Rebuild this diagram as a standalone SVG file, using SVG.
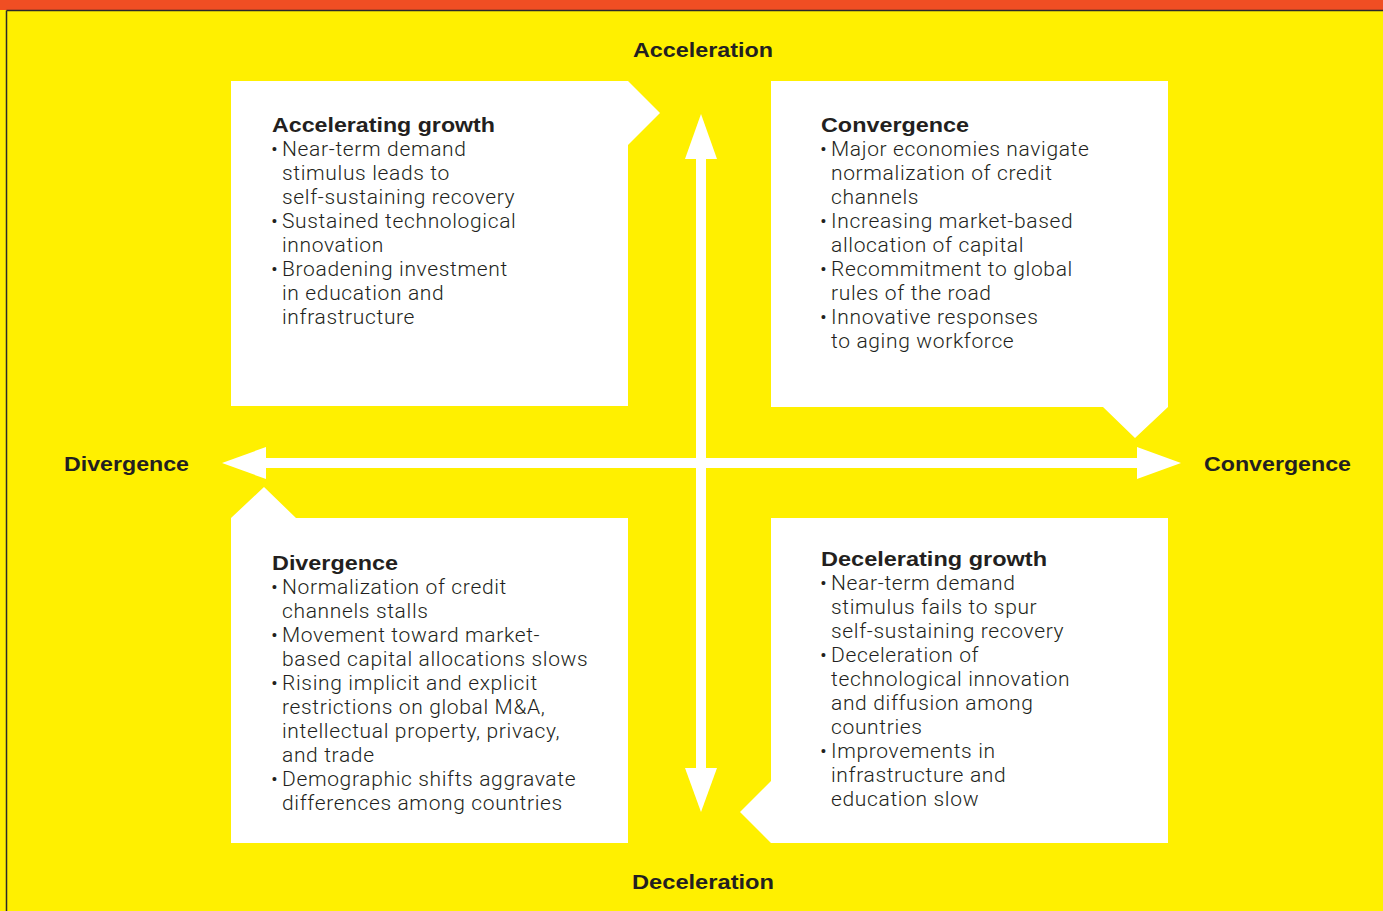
<svg xmlns="http://www.w3.org/2000/svg" width="1383" height="911" viewBox="0 0 1383 911">
  <style>
    .bg { fill: #FFF000; }
    .band { fill: #F04E23; }
    .edge { stroke: #2B2A29; stroke-width: 1.5; fill: none; }
    .card { fill: #FFFFFF; }
    .axis { fill: #FFFFFF; }
    .pole { font-family: "Liberation Sans", Arial, sans-serif; font-weight: 700; font-size: 21px; fill: #231F20; }
    .head { font-family: "Liberation Sans", Arial, sans-serif; font-weight: 700; font-size: 21px; fill: #231F20; }
    .body { font-family: Roboto, "Liberation Sans", sans-serif; font-weight: 300; font-size: 21px; letter-spacing: 0.65px; fill: #231F20; }
  </style>

  <!-- page ground -->
  <rect class="bg" x="0" y="0" width="1383" height="911"/>
  <rect class="band" x="0" y="0" width="1383" height="10"/>
  <line class="edge" x1="6.5" y1="10.5" x2="1383" y2="10.5"/>
  <line class="edge" x1="6.5" y1="10.5" x2="6.5" y2="911"/>

  <!-- axes -->
  <g id="axes">
    <rect class="axis" x="696" y="156" width="10" height="616"/>
    <polygon class="axis" points="701,114 717,159 685,159"/>
    <polygon class="axis" points="701,812 685,768 717,768"/>
    <rect class="axis" x="262" y="458" width="878" height="10"/>
    <polygon class="axis" points="222,463 266,447 266,479"/>
    <polygon class="axis" points="1181,463 1137,447 1137,479"/>
  </g>

  <!-- axis pole labels -->
  <g id="poles">
    <text class="pole" x="703" y="57" text-anchor="middle" textLength="140" lengthAdjust="spacingAndGlyphs">Acceleration</text>
    <text class="pole" x="703" y="889" text-anchor="middle" textLength="142" lengthAdjust="spacingAndGlyphs">Deceleration</text>
    <text class="pole" x="64" y="471" textLength="125" lengthAdjust="spacingAndGlyphs">Divergence</text>
    <text class="pole" x="1204" y="471" textLength="147" lengthAdjust="spacingAndGlyphs">Convergence</text>
  </g>

  <!-- upper-left quadrant -->
  <g id="accelerating-growth">
    <polygon class="card" points="231,81 628,81 660,113 628,145 628,406 231,406"/>
    <text class="head" x="272" y="132" textLength="223" lengthAdjust="spacingAndGlyphs">Accelerating growth</text>
    <text class="body">
      <tspan x="271" y="156">•</tspan><tspan x="282" y="156">Near-term demand</tspan>
      <tspan x="282" y="180">stimulus leads to</tspan>
      <tspan x="282" y="204">self-sustaining recovery</tspan>
      <tspan x="271" y="228">•</tspan><tspan x="282" y="228">Sustained technological</tspan>
      <tspan x="282" y="252">innovation</tspan>
      <tspan x="271" y="276">•</tspan><tspan x="282" y="276">Broadening investment</tspan>
      <tspan x="282" y="300">in education and</tspan>
      <tspan x="282" y="324">infrastructure</tspan>
    </text>
  </g>

  <!-- upper-right quadrant -->
  <g id="convergence">
    <polygon class="card" points="771,81 1168,81 1168,407 1135,438 1103,407 771,407"/>
    <text class="head" x="821" y="132" textLength="148" lengthAdjust="spacingAndGlyphs">Convergence</text>
    <text class="body">
      <tspan x="820" y="156">•</tspan><tspan x="831" y="156">Major economies navigate</tspan>
      <tspan x="831" y="180">normalization of credit</tspan>
      <tspan x="831" y="204">channels</tspan>
      <tspan x="820" y="228">•</tspan><tspan x="831" y="228">Increasing market-based</tspan>
      <tspan x="831" y="252">allocation of capital</tspan>
      <tspan x="820" y="276">•</tspan><tspan x="831" y="276">Recommitment to global</tspan>
      <tspan x="831" y="300">rules of the road</tspan>
      <tspan x="820" y="324">•</tspan><tspan x="831" y="324">Innovative responses</tspan>
      <tspan x="831" y="348">to aging workforce</tspan>
    </text>
  </g>

  <!-- lower-left quadrant -->
  <g id="divergence">
    <polygon class="card" points="231,518 264,487 296,518 628,518 628,843 231,843"/>
    <text class="head" x="272" y="570" textLength="126" lengthAdjust="spacingAndGlyphs">Divergence</text>
    <text class="body">
      <tspan x="271" y="594">•</tspan><tspan x="282" y="594">Normalization of credit</tspan>
      <tspan x="282" y="618">channels stalls</tspan>
      <tspan x="271" y="642">•</tspan><tspan x="282" y="642">Movement toward market-</tspan>
      <tspan x="282" y="666">based capital allocations slows</tspan>
      <tspan x="271" y="690">•</tspan><tspan x="282" y="690">Rising implicit and explicit</tspan>
      <tspan x="282" y="714">restrictions on global M&amp;A,</tspan>
      <tspan x="282" y="738">intellectual property, privacy,</tspan>
      <tspan x="282" y="762">and trade</tspan>
      <tspan x="271" y="786">•</tspan><tspan x="282" y="786">Demographic shifts aggravate</tspan>
      <tspan x="282" y="810">differences among countries</tspan>
    </text>
  </g>

  <!-- lower-right quadrant -->
  <g id="decelerating-growth">
    <polygon class="card" points="771,518 1168,518 1168,843 771,843 740,812 771,781"/>
    <text class="head" x="821" y="566" textLength="226" lengthAdjust="spacingAndGlyphs">Decelerating growth</text>
    <text class="body">
      <tspan x="820" y="590">•</tspan><tspan x="831" y="590">Near-term demand</tspan>
      <tspan x="831" y="614">stimulus fails to spur</tspan>
      <tspan x="831" y="638">self-sustaining recovery</tspan>
      <tspan x="820" y="662">•</tspan><tspan x="831" y="662">Deceleration of</tspan>
      <tspan x="831" y="686">technological innovation</tspan>
      <tspan x="831" y="710">and diffusion among</tspan>
      <tspan x="831" y="734">countries</tspan>
      <tspan x="820" y="758">•</tspan><tspan x="831" y="758">Improvements in</tspan>
      <tspan x="831" y="782">infrastructure and</tspan>
      <tspan x="831" y="806">education slow</tspan>
    </text>
  </g>
</svg>
